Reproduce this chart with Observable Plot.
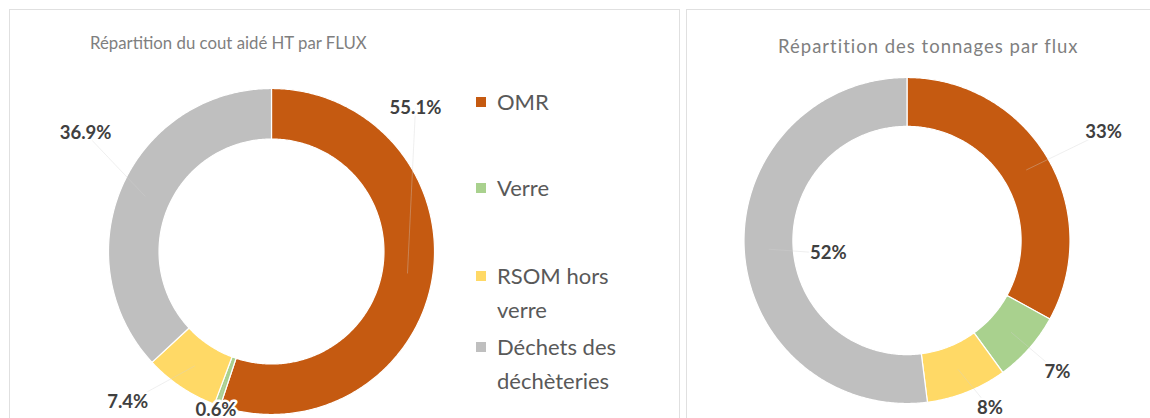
<!DOCTYPE html>
<html>
<head>
<meta charset="utf-8">
<script src="https://cdn.jsdelivr.net/npm/d3@7"></script>
<script src="https://cdn.jsdelivr.net/npm/@observablehq/plot@0.6"></script>
<style>
  html, body { margin: 0; padding: 0; background: #fff; }
  body { width: 1150px; height: 418px; overflow: hidden; position: relative; font-family: Lato, "Open Sans", sans-serif; }
  .panel { position: absolute; border: 1px solid #e0e0e0; box-sizing: border-box; }
  .title { position: absolute; color: #7f7f7f; white-space: nowrap; }
  .chart { position: absolute; }
  .legend { position: absolute; left: 476px; top: 84px; color: #595959; font-size: 22px; line-height: 34px; }
  .legend .item { position: absolute; left: 0; white-space: nowrap; }
  .legend .sw { position: absolute; left: 0; width: 10px; height: 10px; }
  .legend .tx { position: absolute; left: 21px; }
</style>
</head>
<body>
<div class="panel" style="left:9px;top:9px;width:671px;height:420px;"></div>
<div class="panel" style="left:686px;top:9px;width:470px;height:420px;"></div>
<div class="title" style="left:90px;top:32px;font-size:16.8px;">Répartition du cout aidé HT par FLUX</div>
<div class="title" style="left:778px;top:35px;font-size:18.5px;letter-spacing:1px;">Répartition des tonnages par flux</div>
<div id="left" class="chart" style="left:10px;top:10px;"></div>
<div id="right" class="chart" style="left:688px;top:10px;"></div>
<div class="legend" id="legend"></div>
<script>
// ---- data ----
const categories = ["OMR", "Verre", "RSOM hors verre", "Déchets des déchèteries"];
const legendLines = [["OMR"], ["Verre"], ["RSOM hors", "verre"], ["Déchets des", "déchèteries"]];
const colors = ["#C55A11", "#A9D18E", "#FFD966", "#BFBFBF"];
const coutValues = [55.1, 0.6, 7.4, 36.9];
const coutLabels = ["55.1%", "0.6%", "7.4%", "36.9%"];
const tonnageValues = [33, 7, 8, 52];
const tonnageLabels = ["33%", "7%", "8%", "52%"];

// ---- layout (label placement: angle in degrees clockwise from top, radius factor) ----
const coutLabelPlace = [[45.2, 1.245], [199.3, 1.03], [223.6, 1.279], [302.4, 1.351]];
const tonnageLabelPlace = [[61.2, 1.376], [131.1, 1.224], [153.7, 1.15], [260.6, 0.489]];

function slices(values) {
  const total = d3.sum(values);
  let acc = 0;
  return values.map((v, i) => {
    const a0 = acc / total * 2 * Math.PI;
    acc += v;
    const a1 = acc / total * 2 * Math.PI;
    return {cat: categories[i], a0, a1, mid: (a0 + a1) / 2};
  });
}
function ringPoints(sl, rIn, rOut) {
  const pts = [];
  for (const s of sl) {
    const n = Math.max(2, Math.ceil((s.a1 - s.a0) / 0.01));
    for (let k = 0; k <= n; k++) {
      const a = s.a0 + (s.a1 - s.a0) * k / n;
      pts.push({cat: s.cat, x: rOut * Math.sin(a), y: rOut * Math.cos(a)});
    }
    for (let k = n; k >= 0; k--) {
      const a = s.a0 + (s.a1 - s.a0) * k / n;
      pts.push({cat: s.cat, x: rIn * Math.sin(a), y: rIn * Math.cos(a)});
    }
  }
  return pts;
}
function donut(el, values, labels, place, W, H, cx, cy, R, rInner) {
  const sl = slices(values);
  const pts = ringPoints(sl, rInner, 1);
  const rMid = (1 + rInner) / 2;
  const lab = sl.map((s, i) => {
    const a = place[i][0] * Math.PI / 180, r = place[i][1];
    return {text: labels[i], x: r * Math.sin(a), y: r * Math.cos(a),
            mx: rMid * Math.sin(s.mid), my: rMid * Math.cos(s.mid)};
  });
  const chart = Plot.plot({
    width: W, height: H,
    margin: 0,
    style: {fontFamily: "Lato, 'Open Sans', sans-serif", background: "transparent", overflow: "visible"},
    x: {domain: [-cx / R, (W - cx) / R], range: [0, W], axis: null},
    y: {domain: [-(H - cy) / R, cy / R], range: [H, 0], axis: null},
    color: {domain: categories, range: colors},
    marks: [
      Plot.line(pts, {x: "x", y: "y", z: "cat", fill: "cat", stroke: "white", strokeWidth: 1.2, curve: "linear-closed"}),
      Plot.link(lab, {x1: "x", y1: "y", x2: "mx", y2: "my", stroke: "#d0d0d0", strokeOpacity: 0.35, strokeWidth: 1}),
      Plot.text(lab, {x: "x", y: "y", text: "text", fontSize: 18.5, fontWeight: "bold", fill: "#404040",
                      stroke: "white", strokeWidth: 5, paintOrder: "stroke"})
    ]
  });
  document.getElementById(el).appendChild(chart);
}
donut("left", coutValues, coutLabels, coutLabelPlace, 669, 408, 261, 241, 163, 0.69);
donut("right", tonnageValues, tonnageLabels, tonnageLabelPlace, 462, 408, 218.5, 230, 163, 0.70);

// legend
const legendTops = [18, 104, 192, 263];
const lg = document.getElementById("legend");
legendLines.forEach((lines, i) => {
  const it = document.createElement("div");
  it.className = "item";
  it.style.top = (legendTops[i] - 17) + "px";
  const sw = document.createElement("div");
  sw.className = "sw";
  sw.style.background = colors[i];
  sw.style.top = "12px";
  it.appendChild(sw);
  const tx = document.createElement("div");
  tx.className = "tx";
  tx.innerHTML = lines.join("<br>");
  it.appendChild(tx);
  lg.appendChild(it);
});
</script>
</body>
</html>
